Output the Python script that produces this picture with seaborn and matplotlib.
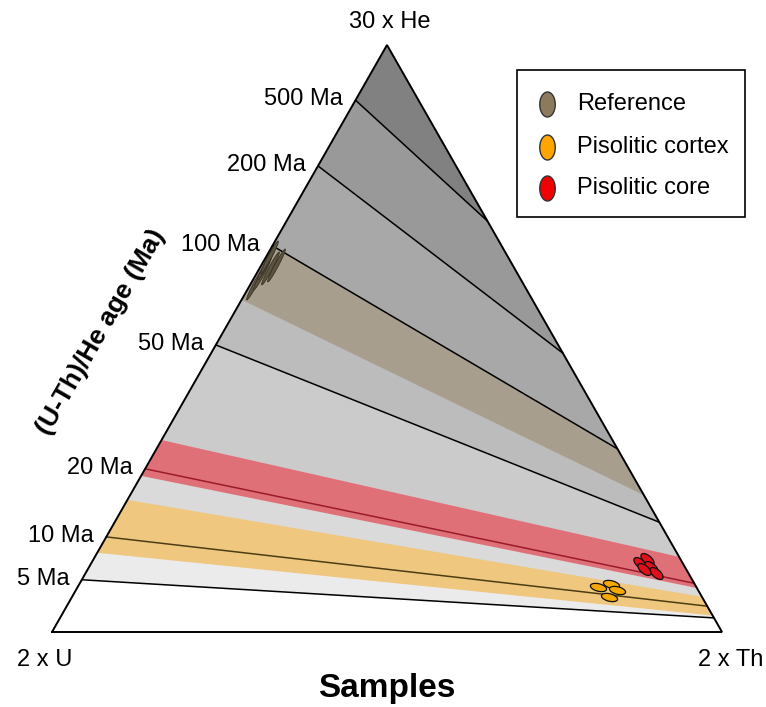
import numpy as np
import pandas as pd
import matplotlib
matplotlib.use('Agg')
import matplotlib.pyplot as plt
import seaborn as sns
from matplotlib.path import Path
from matplotlib.patches import Rectangle

# ---- data (ternary He fraction on each edge) ----
ages = [5, 10, 20, 50, 100, 200, 500]
age_labels = ['5 Ma', '10 Ma', '20 Ma', '50 Ma', '100 Ma', '200 Ma', '500 Ma']
he_left = [0.089, 0.162, 0.278, 0.489, 0.658, 0.794, 0.906]    # on U-He edge
he_right = [0.024, 0.044, 0.083, 0.187, 0.312, 0.475, 0.700]   # on Th-He edge

# age bands of the three sample groups
band_names = ['Reference', 'Pisolitic cortex', 'Pisolitic core']
band_top_left = [0.658, 0.225, 0.327]
band_top_right = [0.312, 0.060, 0.128]
band_bot_left = [0.566, 0.135, 0.266]
band_bot_right = [0.233, 0.028, 0.075]

# sample compositions (He and Th fractions)
ref_he = [0.595, 0.612, 0.620, 0.625, 0.629, 0.639]
ref_th = [0.006, 0.008, 0.015, 0.022, 0.005, 0.004]
cortex_he = [0.077, 0.082, 0.072, 0.060]
cortex_th = [0.777, 0.793, 0.808, 0.802]
core_he = [0.118, 0.124, 0.111, 0.101, 0.107]
core_th = [0.819, 0.826, 0.839, 0.851, 0.830]

# ---- styling ----
sns.set_theme(style='white')
plt.rcParams['font.family'] = ['Liberation Sans', 'DejaVu Sans']
plt.rcParams['text.color'] = 'black'

H = 587 / 670  # triangle height (base = 1)
zone_colors = ['#ebebeb', '#dadada', '#cbcbcb', '#bcbcbc', '#a8a8a8', '#999999', '#818181']
line_colors = ['black', '#4d3d12', '#9b1b2b', 'black', 'black', 'black', 'black']
band_colors = {'Reference': '#a89e8e', 'Pisolitic cortex': '#efc77f', 'Pisolitic core': '#e07078'}
point_colors = {'Reference': '#5c5442', 'Pisolitic cortex': '#f5a800', 'Pisolitic core': '#e0101a'}
edge_colors = {'Reference': '#3a3222', 'Pisolitic cortex': '#111111', 'Pisolitic core': '#111111'}
edge_widths = {'Reference': 0.6, 'Pisolitic cortex': 0.9, 'Pisolitic core': 0.9}
legend_colors = {'Reference': '#8b7b5c', 'Pisolitic cortex': '#ffa500', 'Pisolitic core': '#f00000'}


def tern(th, he):
    he = np.asarray(he, dtype=float)
    th = np.asarray(th, dtype=float)
    return th + 0.5 * he, he * H


def left_pt(h):
    return 0.5 * h, h * H


def right_pt(h):
    return 1 - 0.5 * h, h * H


def px(x, y):
    # pixel position (from top-left) -> data coords
    return (x - 52) / 670, (632 - y) / 670


def ellipse_marker(ratio, angle):
    t = np.linspace(0, 2 * np.pi, 61)
    x, y = np.cos(t), ratio * np.sin(t)
    a = np.deg2rad(angle)
    verts = np.column_stack([x * np.cos(a) - y * np.sin(a), x * np.sin(a) + y * np.cos(a)])
    return Path(verts, closed=True)


fig = plt.figure(figsize=(7.66, 7.07), dpi=100)
ax = fig.add_axes([0, 0, 1, 1])
ax.set_xlim(-52 / 670, 714 / 670)
ax.set_ylim(-75 / 670, 632 / 670)
ax.axis('off')

# grey age zones
for i in range(len(ages)):
    l0, r0 = left_pt(he_left[i]), right_pt(he_right[i])
    if i + 1 < len(ages):
        l1, r1 = left_pt(he_left[i + 1]), right_pt(he_right[i + 1])
        poly = [l0, r0, r1, l1]
    else:
        poly = [l0, r0, (0.5, H)]
    xs, ys = zip(*poly)
    ax.fill(xs, ys, color=zone_colors[i], lw=0, zorder=1)

# coloured sample age bands
for k, name in enumerate(band_names):
    poly = [left_pt(band_top_left[k]), right_pt(band_top_right[k]),
            right_pt(band_bot_right[k]), left_pt(band_bot_left[k])]
    xs, ys = zip(*poly)
    ax.fill(xs, ys, color=band_colors[name], lw=0, zorder=2)

# isochrons + labels
for i, lab in enumerate(age_labels):
    (x0, y0), (x1, y1) = left_pt(he_left[i]), right_pt(he_right[i])
    ax.plot([x0, x1], [y0, y1], color=line_colors[i], lw=1.1, zorder=3)
    ax.annotate(lab, (x0, y0), xytext=(-9, 0.5), textcoords='offset points',
                ha='right', va='center', fontsize=17)

# samples
samples = pd.concat([
    pd.DataFrame({'group': 'Reference', 'he': ref_he, 'th': ref_th}),
    pd.DataFrame({'group': 'Pisolitic cortex', 'he': cortex_he, 'th': cortex_th}),
    pd.DataFrame({'group': 'Pisolitic core', 'he': core_he, 'th': core_th}),
], ignore_index=True)
samples['x'], samples['y'] = tern(samples['th'], samples['he'])

markers = {'Reference': ellipse_marker(0.10, 62),
           'Pisolitic cortex': ellipse_marker(0.45, -14),
           'Pisolitic core': ellipse_marker(0.5, -40)}
sizes = {'Reference': 560, 'Pisolitic cortex': 135, 'Pisolitic core': 90}
for name in band_names:
    sub = samples[samples['group'] == name]
    sns.scatterplot(data=sub, x='x', y='y', color=point_colors[name], marker=markers[name],
                    s=sizes[name], edgecolor=edge_colors[name], linewidth=edge_widths[name],
                    legend=False, ax=ax, zorder=5)

# triangle outline
ax.plot([0, 1, 0.5, 0], [0, 0, H, 0], color='black', lw=1.4, zorder=6, solid_joinstyle='miter')

# axis / vertex labels
ax.text(*px(390, 22), '30 x He', ha='center', va='center', fontsize=17)
ax.text(*px(45, 660), '2 x U', ha='center', va='center', fontsize=17)
ax.text(*px(763, 660), '2 x Th', ha='right', va='center', fontsize=17)
ax.text(*px(387, 689), 'Samples', ha='center', va='center', fontsize=24, fontweight='bold')
ax.text(*px(101, 332), '(U-Th)/He age (Ma)', ha='center', va='center',
        rotation=60, fontsize=19, fontweight='bold', rotation_mode='anchor')

# legend box, drawn by hand to match the reference layout
ax.add_patch(Rectangle(px(517, 217), 228 / 670, 147 / 670, facecolor='white',
                       edgecolor='black', lw=1.2, zorder=7))
for name, yy in zip(band_names, [104, 147, 188]):
    ax.plot(*px(547, yy), linestyle='none', marker=ellipse_marker(0.62, 90), markersize=18,
            markerfacecolor=legend_colors[name], markeredgecolor='#333333',
            markeredgewidth=1, zorder=8)
    ax.text(*px(577, yy), name, ha='left', va='center', fontsize=17, zorder=8)

fig.savefig('out.png', dpi=100)
